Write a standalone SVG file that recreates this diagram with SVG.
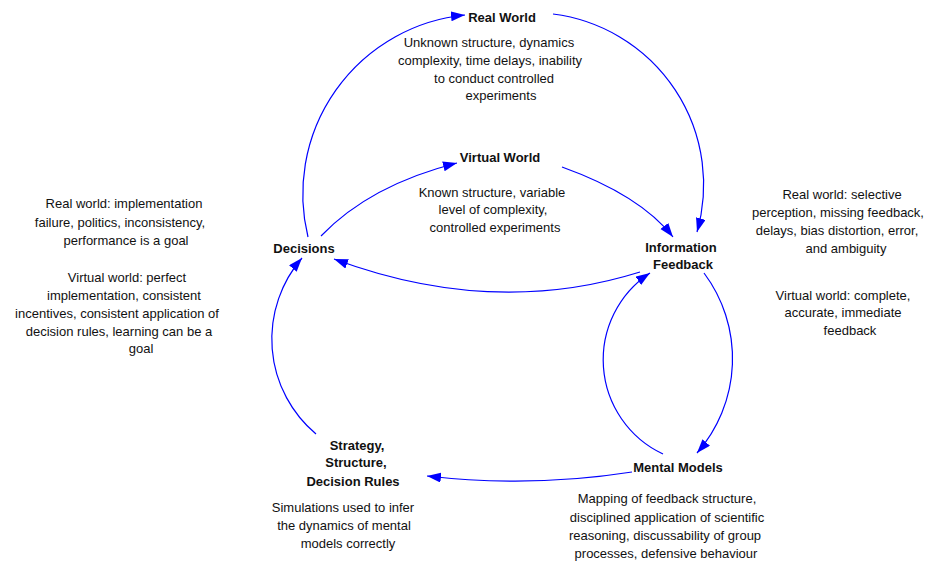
<svg xmlns="http://www.w3.org/2000/svg" width="930" height="561" viewBox="0 0 930 561">
  <defs>
    <marker id="arrow" markerUnits="userSpaceOnUse" markerWidth="15" markerHeight="11" refX="14" refY="5" orient="auto">
      <path d="M0,0 L14,5 L0,10 z" fill="#0000ff"/>
    </marker>
    <style>
      text { font-family: "Liberation Sans", Arial, sans-serif; font-size: 13px; fill: #111; text-anchor: middle; }
      .node { font-weight: bold; }
      .link { fill: none; stroke: #0000ff; stroke-width: 1.2; marker-end: url(#arrow); }
    </style>
  </defs>
  <rect width="930" height="561" fill="#ffffff"/>

  <!-- connectors -->
  <g id="connectors">
    <path class="link" d="M 308 237 A 180 180 0 0 1 465 15"/>
    <path class="link" d="M 553 14 A 172 172 0 0 1 697 232"/>
    <path class="link" d="M 321 236 Q 370 185 457 163"/>
    <path class="link" d="M 562 167 Q 640 195 673 237"/>
    <path class="link" d="M 640 272 Q 493 318 334 259"/>
    <path class="link" d="M 316 434 A 124 124 0 0 1 302 258"/>
    <path class="link" d="M 632 472 Q 530 488 427 476"/>
    <path class="link" d="M 704 273 A 143 143 0 0 1 697 453"/>
    <path class="link" d="M 663 454 A 104 104 0 0 1 650 273"/>
  </g>

  <!-- nodes -->
  <g id="real-world">
    <text class="node" x="502" y="22">Real World</text>
    <text x="489" y="47">Unknown structure, dynamics</text>
    <text x="490" y="65">complexity, time delays, inability</text>
    <text x="494" y="83">to conduct controlled</text>
    <text x="501" y="100">experiments</text>
  </g>

  <g id="virtual-world">
    <text class="node" x="500" y="162">Virtual World</text>
    <text x="492" y="197">Known structure, variable</text>
    <text x="493" y="214">level of complexity,</text>
    <text x="495" y="232">controlled experiments</text>
  </g>

  <g id="decisions">
    <text class="node" x="304" y="253">Decisions</text>
  </g>

  <g id="information-feedback">
    <text class="node" x="681" y="252">Information</text>
    <text class="node" x="683" y="269">Feedback</text>
  </g>

  <g id="mental-models">
    <text class="node" x="678" y="472">Mental Models</text>
    <text x="667" y="503">Mapping of feedback structure,</text>
    <text x="667" y="522">disciplined application of scientific</text>
    <text x="665" y="540">reasoning, discussability of group</text>
    <text x="666" y="558">processes, defensive behaviour</text>
  </g>

  <g id="strategy">
    <text class="node" x="357" y="450">Strategy,</text>
    <text class="node" x="356" y="467">Structure,</text>
    <text class="node" x="353" y="486">Decision Rules</text>
    <text x="343" y="512">Simulations used to infer</text>
    <text x="344" y="530">the dynamics of mental</text>
    <text x="348" y="548">models correctly</text>
  </g>

  <!-- side notes -->
  <g id="decision-notes">
    <text x="124" y="208">Real world: implementation</text>
    <text x="120" y="227">failure, politics, inconsistency,</text>
    <text x="126" y="245">performance is a goal</text>
    <text x="127" y="282">Virtual world: perfect</text>
    <text x="124" y="300">implementation, consistent</text>
    <text x="117" y="318">incentives, consistent application of</text>
    <text x="119" y="336">decision rules, learning can be a</text>
    <text x="141" y="353">goal</text>
  </g>

  <g id="feedback-notes">
    <text x="842" y="199">Real world: selective</text>
    <text x="838" y="217">perception, missing feedback,</text>
    <text x="837" y="235">delays, bias distortion, error,</text>
    <text x="846" y="253">and ambiguity</text>
    <text x="843" y="300">Virtual world: complete,</text>
    <text x="843" y="317">accurate, immediate</text>
    <text x="850" y="335">feedback</text>
  </g>
</svg>
